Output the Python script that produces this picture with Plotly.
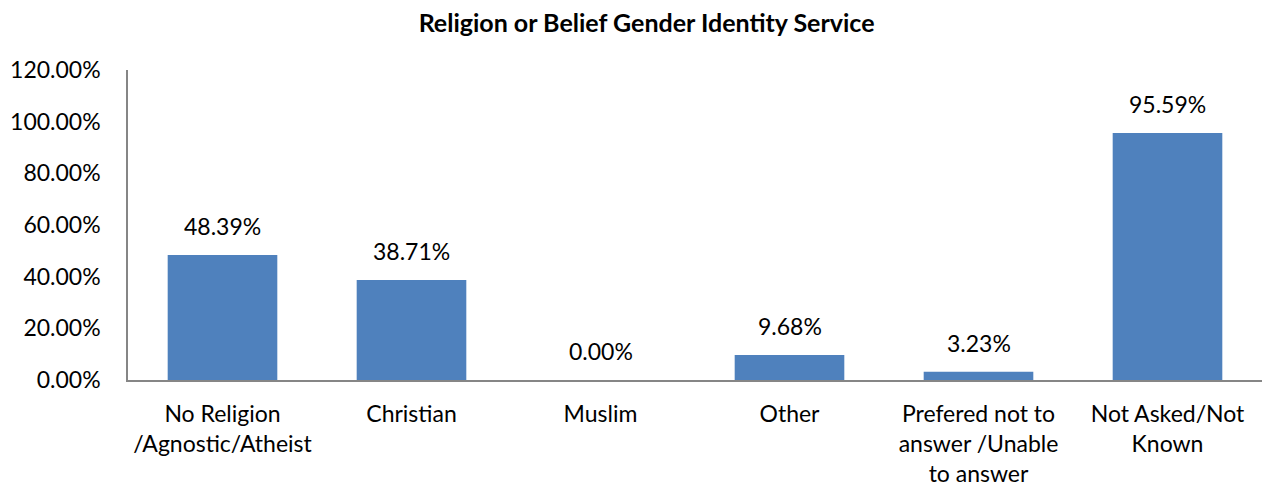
import plotly.graph_objects as go

categories = ["No Religion<br>/Agnostic/Atheist", "Christian", "Muslim", "Other",
              "Prefered not to<br>answer /Unable<br>to answer", "Not Asked/Not<br>Known"]
values = [48.39, 38.71, 0.00, 9.68, 3.23, 95.59]
tick_vals = [0, 20, 40, 60, 80, 100, 120]
tick_text = ["0.00%", "20.00%", "40.00%", "60.00%", "80.00%", "100.00%", "120.00%"]

FONT = "Lato"
FS = 23

fig = go.Figure(go.Bar(
    x=categories, y=values,
    marker=dict(color="#4F81BD", line=dict(width=0)),
    width=0.58,
    cliponaxis=False,
))

for c, v in zip(categories, values):
    fig.add_annotation(x=c, y=v, text=f"{v:.2f}%", showarrow=False,
                       yanchor="bottom", yshift=13,
                       font=dict(family=FONT, size=FS, color="#000000"))

fig.update_layout(
    width=1262, height=484,
    margin=dict(l=120, r=8, t=62, b=112, autoexpand=False),
    paper_bgcolor="white", plot_bgcolor="white",
    title=dict(text="<b>Religion or Belief Gender Identity Service</b>",
               x=0.506, xanchor="center", y=1, yanchor="top", yref="container",
               pad=dict(t=6),
               font=dict(family=FONT, size=25, color="#000000")),
    showlegend=False,
)
fig.update_xaxes(
    showline=True, linecolor="#868686", linewidth=1.5,
    ticks="", tickfont=dict(family=FONT, size=FS, color="#000000"),
    ticklabelstandoff=13, automargin=False,
)
fig.update_yaxes(
    range=[0, 120], tickvals=tick_vals, ticktext=tick_text,
    showline=True, linecolor="#868686", linewidth=1.5,
    showgrid=False, zeroline=False, ticks="",
    tickfont=dict(family=FONT, size=FS, color="#000000"),
    ticklabelstandoff=21, automargin=False,
)

fig.write_html("out.html")
